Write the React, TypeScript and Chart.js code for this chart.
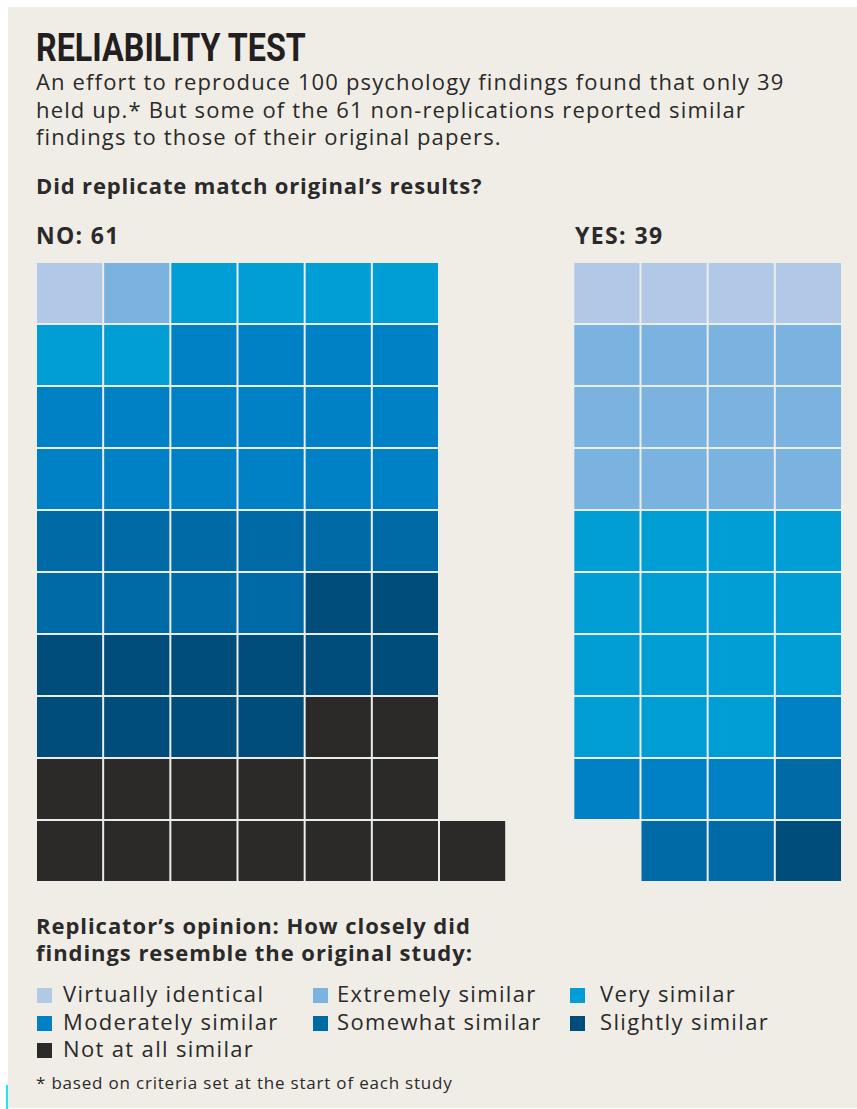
import React, { useEffect, useRef } from "react";
import { Chart, registerables } from "chart.js";

Chart.register(...registerables);

// ---------- data ----------
const categories = [
  "Virtually identical",
  "Extremely similar",
  "Very similar",
  "Moderately similar",
  "Somewhat similar",
  "Slightly similar",
  "Not at all similar",
];
const categoryColors = ["#b1c8e6", "#7ab3df", "#019dd5", "#0080c5", "#006aa6", "#004c7b", "#2b2a28"];
const noCounts = [1, 1, 6, 16, 10, 12, 15];
const yesCounts = [4, 12, 15, 4, 3, 1, 0];
const slotLabels = ["NO 1", "NO 2", "NO 3", "NO 4", "NO 5", "NO 6", "NO 7", "", "YES 1", "YES 2", "YES 3", "YES 4"];

const ROWS = 10;
const BG = "#f0ede6";
const INK = "#2a2a2a";

type Cell = { slot: number; row: number; cat: number };

function placeCells(counts: number[], cols: number, offset: number, alignRight: boolean): Cell[] {
  const seq: number[] = [];
  counts.forEach((c, i) => {
    for (let k = 0; k < c; k++) seq.push(i);
  });
  const full = (ROWS - 1) * cols;
  const rest = seq.length - full;
  return seq.map((cat, i) => {
    if (i < full) return { slot: offset + (i % cols), row: Math.floor(i / cols), cat };
    const k = i - full;
    return { slot: offset + (alignRight ? cols - rest + k : k), row: ROWS - 1, cat };
  });
}

const sum = (a: number[]) => a.reduce((s, v) => s + v, 0);

function WaffleChart() {
  const ref = useRef<HTMLCanvasElement | null>(null);
  useEffect(() => {
    if (!ref.current) return;
    const cells = [...placeCells(noCounts, 6, 0, false), ...placeCells(yesCounts, 4, 8, true)];
    const datasets = [];
    for (let t = 0; t < ROWS; t++) {
      const data: ([number, number] | null)[] = slotLabels.map(() => null);
      const bg: string[] = slotLabels.map(() => "rgba(0,0,0,0)");
      cells
        .filter((c) => c.row === t)
        .forEach((c) => {
          data[c.slot] = [ROWS - 1 - t, ROWS - t];
          bg[c.slot] = categoryColors[c.cat];
        });
      datasets.push({
        label: "row " + (t + 1),
        data,
        backgroundColor: bg,
        borderColor: "rgba(232,236,236,0.9)",
        borderWidth: 1,
        borderSkipped: false,
        inflateAmount: 0,
        grouped: false,
        categoryPercentage: 1,
        barPercentage: 1,
      });
    }
    const chart = new Chart(ref.current, {
      type: "bar",
      data: { labels: slotLabels, datasets: datasets as any },
      options: {
        animation: false,
        responsive: false,
        maintainAspectRatio: false,
        layout: { padding: 0 },
        plugins: { legend: { display: false }, tooltip: { enabled: false } },
        scales: {
          x: { stacked: true, display: false, offset: true },
          y: { stacked: false, display: false, min: 0, max: ROWS },
        },
      },
    });
    return () => chart.destroy();
  }, []);
  return <canvas ref={ref} width={806} height={620} style={{ width: 806, height: 620, display: "block" }} />;
}

const OS = '"Open Sans", "Noto Sans", sans-serif';

function Line(props: {
  x: number;
  base: number;
  size: number;
  weight?: number;
  spacing?: number;
  family?: string;
  asc?: number;
  lh?: number;
  color?: string;
  style?: React.CSSProperties;
  children: React.ReactNode;
}) {
  const asc = props.asc ?? 1.069;
  const lh = props.lh ?? 1.362;
  return (
    <div
      style={{
        position: "absolute",
        left: props.x,
        top: props.base - asc * props.size,
        fontFamily: props.family ?? OS,
        fontSize: props.size,
        fontWeight: props.weight ?? 400,
        lineHeight: `${lh * props.size}px`,
        letterSpacing: props.spacing ?? 0,
        color: props.color ?? INK,
        whiteSpace: "nowrap",
        ...props.style,
      }}
    >
      {props.children}
    </div>
  );
}

export default function App() {
  const legendCols = [
    { sw: 29, tx: 55 },
    { sw: 305, tx: 329 },
    { sw: 562, tx: 592 },
  ];
  const legendBases = [996, 1024, 1051];
  return (
    <>
      <div
        style={{
          position: "fixed",
          left: 8,
          top: 7,
          width: 849,
          height: 1101,
          background: BG,
          overflow: "hidden",
        }}
      >
        <Line
          x={28}
          base={54}
          size={38}
          weight={700}
          family="Roboto, sans-serif"
          asc={0.928}
          lh={1.172}
          color="#231f20"
          style={{ transform: "scaleX(0.85)", transformOrigin: "left center" }}
        >
          RELIABILITY TEST
        </Line>
        <Line x={28} base={84} size={22} spacing={1.15}>
          An effort to reproduce 100 psychology findings found that only 39
        </Line>
        <Line x={28} base={111.5} size={22} spacing={1.15}>
          held up.* But some of the 61 non-replications reported similar
        </Line>
        <Line x={28} base={139} size={22} spacing={1.15}>
          findings to those of their original papers.
        </Line>
        <Line x={28} base={188} size={22} weight={700} spacing={0.85}>
          Did replicate match original’s results?
        </Line>
        <Line x={28} base={238} size={23} weight={700} spacing={1.3}>
          NO: {sum(noCounts)}
        </Line>
        <Line x={567} base={238} size={23} weight={700} spacing={1.4}>
          YES: {sum(yesCounts)}
        </Line>
        <div style={{ position: "absolute", left: 28, top: 255 }}>
          <WaffleChart />
        </div>
        <Line x={28} base={928} size={22} weight={700} spacing={0.95}>
          Replicator’s opinion: How closely did
        </Line>
        <Line x={28} base={955} size={22} weight={700} spacing={0.95}>
          findings resemble the original study:
        </Line>
        {categories.map((c, i) => {
          const col = legendCols[i % 3];
          const base = legendBases[Math.floor(i / 3)];
          return (
            <React.Fragment key={c}>
              <div
                style={{
                  position: "absolute",
                  left: col.sw,
                  top: base - 15,
                  width: 15,
                  height: 15,
                  background: categoryColors[i],
                }}
              />
              <Line x={col.tx} base={base} size={22} spacing={1.35}>
                {c}
              </Line>
            </React.Fragment>
          );
        })}
        <Line x={28} base={1082} size={17} spacing={0.8}>
          * based on criteria set at the start of each study
        </Line>
      </div>
      <div style={{ position: "fixed", left: 6, top: 1085, width: 2, height: 24, background: "#1ee6ef" }} />
    </>
  );
}
